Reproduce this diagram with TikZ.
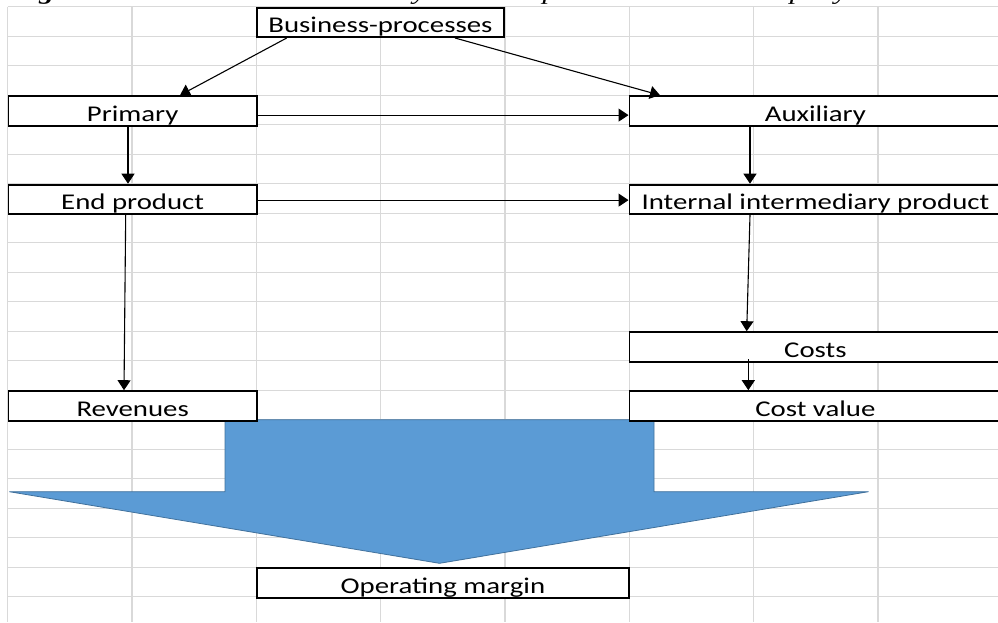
\documentclass[tikz,border=0pt]{standalone}
\usepackage{fontspec}
\setmainfont{Carlito}[FakeStretch=1.28]
\newfontfamily\capfont{Liberation Serif}[FakeStretch=1.3]
\usetikzlibrary{arrows.meta,calc}
\definecolor{gridc}{HTML}{D9D9D9}
\definecolor{fillb}{HTML}{5B9BD5}
\definecolor{edgeb}{HTML}{41719C}
\begin{document}
\begin{tikzpicture}[x=1pt,y=-1pt,
  box/.style={draw=black, line width=1.8pt, fill=white, inner sep=0pt,
    minimum height=29.5pt, text height=25pt, text depth=4.5pt,
    font=\fontsize{22.5}{24}\selectfont, anchor=north west},
  arr/.style={line width=1.1pt, -{Triangle[length=10pt,width=13pt]}},
  gridline/.style={draw=gridc, line width=1.3pt},
  bigarrow/.style={fill=fillb, draw=edgeb, line width=0.8pt, line join=miter}]
\useasboundingbox (0,0) rectangle (998,622);
% caption (cut off at the top)
\node[anchor=base west, inner sep=0pt, font=\capfont\fontsize{23}{24}\selectfont\itshape] (cap) at (11,-0.5)
  {\textbf{Figure 4.} Indicators calculated by business processes at the company};
% spreadsheet grid
\foreach \i in {0,...,7} \draw[gridline] ({7.5+124.35*\i},6.7) -- ({7.5+124.35*\i},622);
\foreach \j in {0,...,20} \draw[gridline] (7.5,{6.7+29.5*\j}) -- (998,{6.7+29.5*\j});
% big blue arrow
\filldraw[bigarrow] (225,419.7) -- (654,419.7) -- (654,491.7) -- (868.5,491.7) -- (439.5,563.3) -- (9.3,491.7) -- (225,491.7) -- cycle;
% boxes
\node[box, minimum width=247pt]   (bp)    at (256,6.7)     {Business-processes};
\node[box, minimum width=248.5pt] (prim)  at (7.5,95.2)    {Primary};
\node[box, minimum width=372pt]   (aux)   at (628.5,95.2)  {Auxiliary};
\node[box, minimum width=248.5pt] (endp)  at (7.5,183.7)   {End product};
\node[box, minimum width=372pt]   (inter) at (628.5,183.7) {Internal intermediary product};
\node[box, minimum width=372pt]   (costs) at (628.5,331.2) {Costs};
\node[box, minimum width=372pt]   (costv) at (628.5,390.2) {Cost value};
\node[box, minimum width=248.5pt] (rev)   at (7.5,390.2)   {Revenues};
\node[box, minimum width=372pt]   (opm)   at (256,567.2)   {Operating margin};
% connectors
\draw[arr] ($(bp.south west)+(30.7,0)$) -- ($(prim.north west)+(172.5,0)$);
\draw[arr] ($(bp.south west)+(199,0)$) -- ($(aux.north west)+(31.5,0)$);
\draw[arr] ($(prim.south east)+(0,-11.4)$) -- ($(aux.south west)+(0,-11.4)$);
\draw[arr] ($(prim.south west)+(120.5,0)$) -- ($(endp.north west)+(120.5,0)$);
\draw[arr] ($(aux.south west)+(121.5,0)$) -- ($(inter.north west)+(121.5,0)$);
\draw[arr] ($(endp.south east)+(0,-14.9)$) -- ($(inter.south west)+(0,-14.9)$);
\draw[arr] ($(endp.south west)+(118.2,0)$) -- ($(rev.north west)+(116.5,0)$);
\draw[arr] ($(inter.south west)+(121.5,0)$) -- ($(costs.north west)+(118.2,0)$);
\draw[arr] ($(costs.south west)+(119.8,-3.5)$) -- ($(costv.north west)+(119.8,0)$);
\end{tikzpicture}
\end{document}
